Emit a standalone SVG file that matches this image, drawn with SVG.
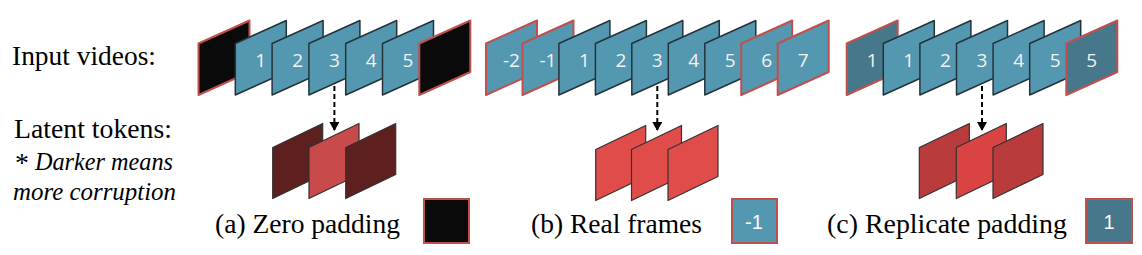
<svg xmlns="http://www.w3.org/2000/svg" width="1142" height="255" viewBox="0 0 1142 255">
<style>
.lbl{font-family:"Liberation Serif","Times New Roman",serif;font-size:27.6px;fill:#000}
.lbi{font-family:"Liberation Serif","Times New Roman",serif;font-size:25px;font-style:italic;fill:#000}
.num{font-family:"Open Sans","Noto Sans",sans-serif;font-size:19px;fill:#f2f2f2;text-anchor:middle}
.sq{font-family:"Liberation Sans",Arial,sans-serif;font-size:20px;fill:#fff;text-anchor:middle}
.fb{fill:#5497b0;stroke:#24333a;stroke-width:1.5;stroke-linejoin:round}
.fp{fill:#5497b0;stroke:#c0504d;stroke-width:2;stroke-linejoin:round}
.fk{fill:#0a0a0a;stroke:#c0504d;stroke-width:2;stroke-linejoin:round}
.fr{fill:#46778a;stroke:#c0504d;stroke-width:2;stroke-linejoin:round}
.tk{stroke:#333;stroke-width:1.2;stroke-linejoin:round}
.arr{stroke:#000;stroke-width:2;stroke-dasharray:5,3;fill:none}
</style>
<defs>
<path id="fr" d="M0,23 L51,0 L51,51.5 L0,74.5 Z"/>
<path id="tk" d="M0,24 L50,0 L50,51 L0,75 Z"/>
<marker id="ah" markerWidth="10" markerHeight="10" refX="8" refY="5" orient="auto" markerUnits="userSpaceOnUse">
<path d="M0,0 L9,5 L0,10 Z" fill="#000"/>
</marker>
</defs>

<g id="labels">
<text class="lbl" x="12" y="65" textLength="144" lengthAdjust="spacingAndGlyphs">Input videos:</text>
<text class="lbl" x="14" y="138" textLength="158" lengthAdjust="spacingAndGlyphs">Latent tokens:</text>
<text class="lbl" x="15" y="172">*</text>
<text class="lbi" x="35" y="170" textLength="138" lengthAdjust="spacingAndGlyphs">Darker means</text>
<text class="lbi" x="13" y="200" textLength="163" lengthAdjust="spacingAndGlyphs">more corruption</text>
</g>

<g id="seq-a">
<use href="#fr" class="fk" x="198.5" y="20.5"/>
<use href="#fr" class="fb" x="235.3" y="20.5"/><text class="num" x="260.8" y="67">1</text>
<use href="#fr" class="fb" x="272.1" y="20.5"/><text class="num" x="297.6" y="67">2</text>
<use href="#fr" class="fb" x="308.9" y="20.5"/><text class="num" x="334.4" y="67">3</text>
<use href="#fr" class="fb" x="345.7" y="20.5"/><text class="num" x="371.2" y="67">4</text>
<use href="#fr" class="fb" x="382.5" y="20.5"/><text class="num" x="408" y="67">5</text>
<use href="#fr" class="fk" x="419.3" y="20.5"/>
</g>

<g id="seq-b">
<use href="#fr" class="fp" x="486" y="20.5"/><text class="num" x="511.5" y="67">-2</text>
<use href="#fr" class="fp" x="522.5" y="20.5"/><text class="num" x="548" y="67">-1</text>
<use href="#fr" class="fb" x="558.9" y="20.5"/><text class="num" x="584.4" y="67">1</text>
<use href="#fr" class="fb" x="595.4" y="20.5"/><text class="num" x="620.9" y="67">2</text>
<use href="#fr" class="fb" x="631.8" y="20.5"/><text class="num" x="657.3" y="67">3</text>
<use href="#fr" class="fb" x="668.3" y="20.5"/><text class="num" x="693.8" y="67">4</text>
<use href="#fr" class="fb" x="704.8" y="20.5"/><text class="num" x="730.3" y="67">5</text>
<use href="#fr" class="fp" x="741.2" y="20.5"/><text class="num" x="766.7" y="67">6</text>
<use href="#fr" class="fp" x="777.7" y="20.5"/><text class="num" x="803.2" y="67">7</text>
</g>

<g id="seq-c">
<use href="#fr" class="fr" x="846.7" y="20.5"/><text class="num" x="872.2" y="67">1</text>
<use href="#fr" class="fb" x="883.3" y="20.5"/><text class="num" x="908.8" y="67">1</text>
<use href="#fr" class="fb" x="919.9" y="20.5"/><text class="num" x="945.4" y="67">2</text>
<use href="#fr" class="fb" x="956.5" y="20.5"/><text class="num" x="982" y="67">3</text>
<use href="#fr" class="fb" x="993.1" y="20.5"/><text class="num" x="1018.6" y="67">4</text>
<use href="#fr" class="fb" x="1029.7" y="20.5"/><text class="num" x="1055.2" y="67">5</text>
<use href="#fr" class="fr" x="1066.3" y="20.5"/><text class="num" x="1091.8" y="67">5</text>
</g>

<g id="connectors">
<line class="arr" x1="334.4" y1="86" x2="334.4" y2="130" marker-end="url(#ah)"/>
<line class="arr" x1="657.3" y1="86" x2="657.3" y2="130" marker-end="url(#ah)"/>
<line class="arr" x1="982" y1="86" x2="982" y2="130" marker-end="url(#ah)"/>
</g>

<g id="tokens-a">
<use href="#tk" class="tk" fill="#5e1f1f" x="272.7" y="123.5"/>
<use href="#tk" class="tk" fill="#c84a4a" x="309" y="123.5"/>
<use href="#tk" class="tk" fill="#5e1f1f" x="345.7" y="123.5"/>
</g>
<g id="tokens-b">
<use href="#tk" class="tk" fill="#e04c4a" x="595.7" y="125.5"/>
<use href="#tk" class="tk" fill="#e04c4a" x="631.5" y="125.5"/>
<use href="#tk" class="tk" fill="#e04c4a" x="668" y="125.5"/>
</g>
<g id="tokens-c">
<use href="#tk" class="tk" fill="#b93b3b" x="919.3" y="123.5"/>
<use href="#tk" class="tk" fill="#d94343" x="956.3" y="123.5"/>
<use href="#tk" class="tk" fill="#b93b3b" x="993" y="123.5"/>
</g>

<g id="legend-a">
<text class="lbl" x="215" y="233" textLength="185" lengthAdjust="spacingAndGlyphs">(a) Zero padding</text>
<rect x="424" y="199" width="45" height="44" fill="#0a0a0a" stroke="#c0504d" stroke-width="2"/>
</g>
<g id="legend-b">
<text class="lbl" x="531" y="233" textLength="171" lengthAdjust="spacingAndGlyphs">(b) Real frames</text>
<rect x="732" y="199" width="45" height="44" fill="#5497b0" stroke="#c0504d" stroke-width="2"/>
<text class="sq" x="754" y="229">-1</text>
</g>
<g id="legend-c">
<text class="lbl" x="827" y="233" textLength="240" lengthAdjust="spacingAndGlyphs">(c) Replicate padding</text>
<rect x="1086" y="199" width="46" height="44" fill="#46778a" stroke="#c0504d" stroke-width="2"/>
<text class="sq" x="1109" y="229">1</text>
</g>
</svg>
